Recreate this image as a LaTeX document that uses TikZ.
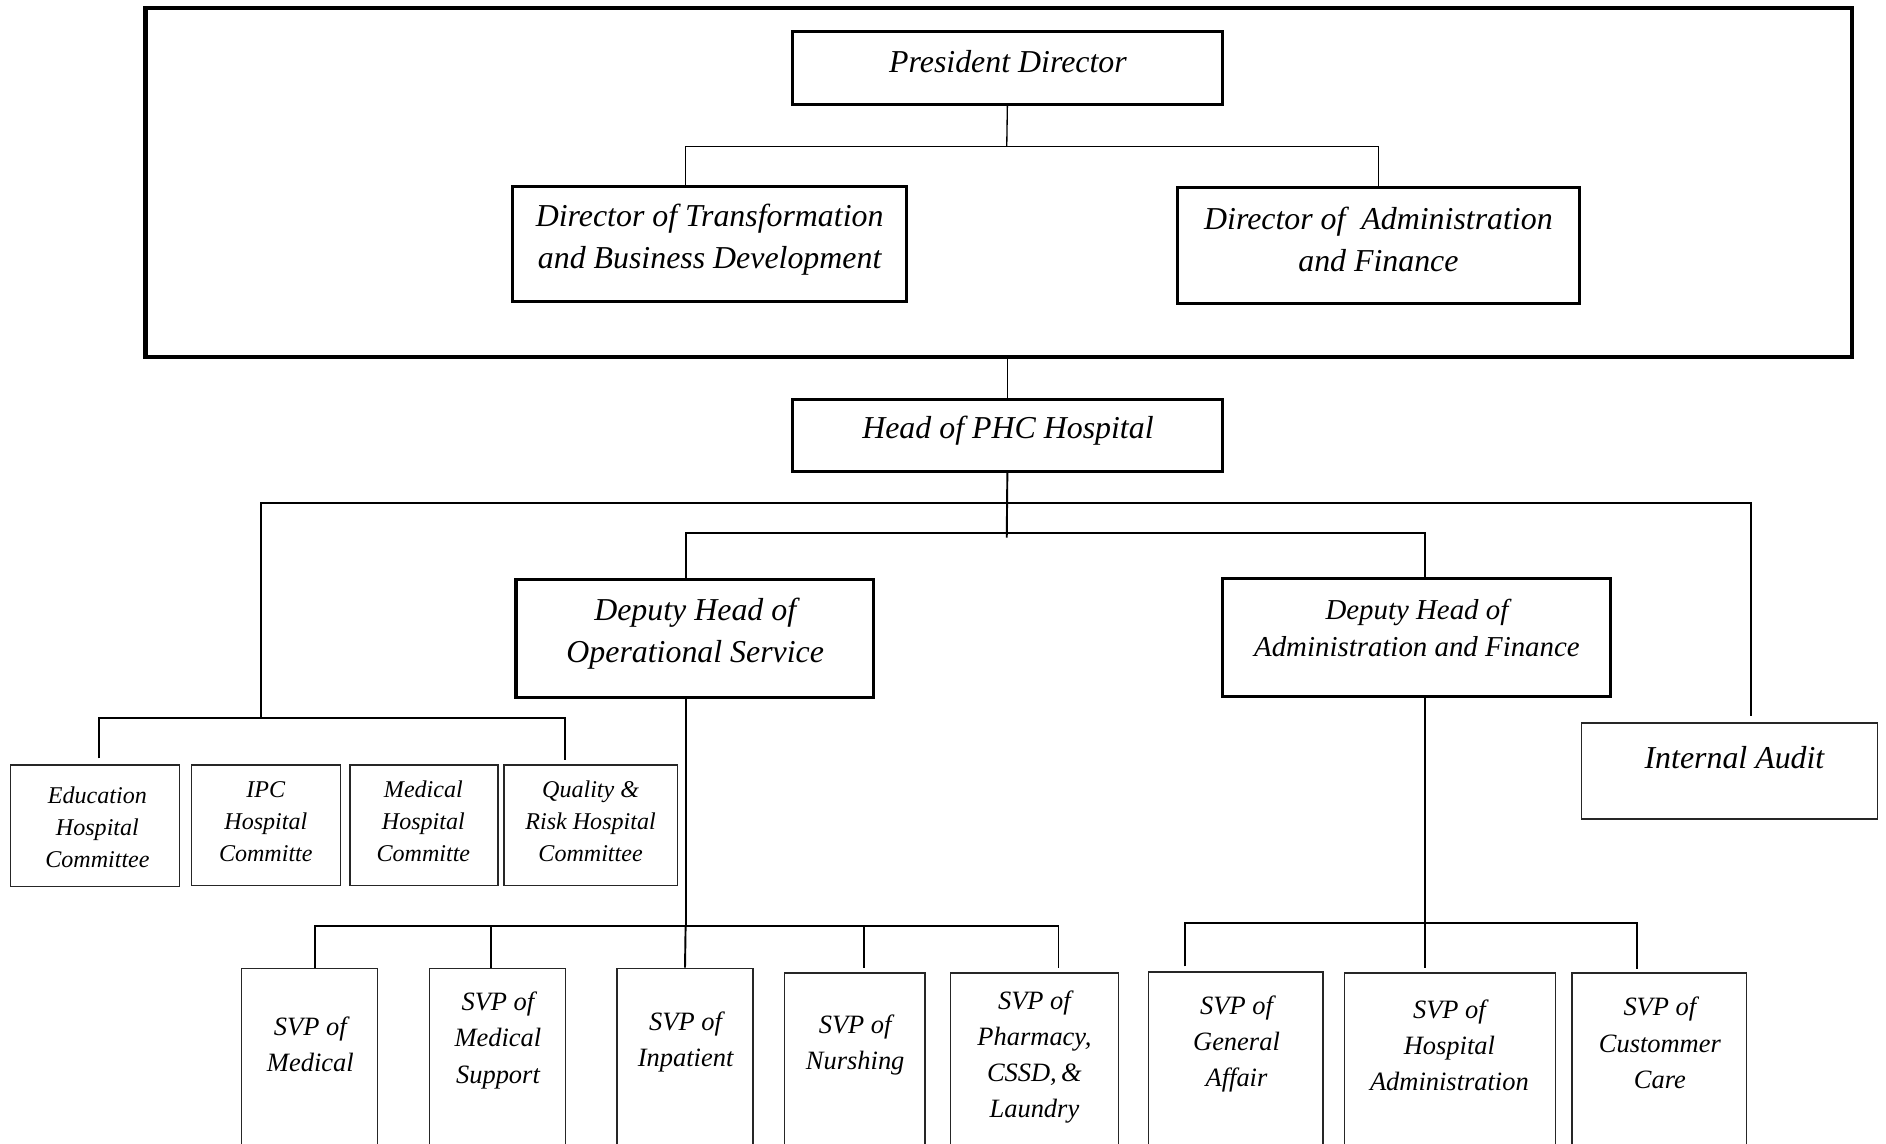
\documentclass[tikz,border=0pt]{standalone}
\usepackage{fontspec}
\setmainfont{Liberation Serif}
\begin{document}
\begin{tikzpicture}[x=1pt,y=-1pt,
  heavybox/.style={draw, line width=2.6pt, inner sep=0pt},
  lightbox/.style={draw=black!85, line width=1.1pt, inner sep=0pt},
  frame/.style={draw, line width=3.4pt, inner sep=0pt},
  conn/.style={line width=1.6pt},
  thinconn/.style={line width=1.1pt},
  bigtxt/.style={align=center, inner sep=0pt, font=\fontsize{26.5}{35}\selectfont\itshape},
  midtxt/.style={align=center, inner sep=0pt, font=\fontsize{24}{31}\selectfont\itshape},
  svptxt/.style={align=center, inner sep=0pt, font=\fontsize{22}{30}\selectfont\itshape},
  comtxt/.style={align=center, inner sep=0pt, font=\fontsize{20}{26.5}\selectfont\itshape}
]
\clip (0,0) rectangle (1568,951);
\fill[white] (0,0) rectangle (1568,951);

% board of directors
\node[frame, minimum width=1419, minimum height=290] (board) at (830.5,152) {};
\node[heavybox, minimum width=357, minimum height=61] (pres) at (837.5,56.5) {};
\node[bigtxt] (pres-t) at (838,51) {President Director};
\node[heavybox, minimum width=328, minimum height=96] (dirT) at (590,203) {};
\node[bigtxt] (dirT-t) at (590,199.5) {Director of Transformation\\and Business Development};
\node[heavybox, minimum width=334, minimum height=96] (dirA) at (1146,204) {};
\node[bigtxt] (dirA-t) at (1146,199) {Director of\ \ Administration\\and Finance};

% hospital head and deputies
\node[heavybox, minimum width=357, minimum height=60] (head) at (837.5,362) {};
\node[bigtxt] (head-t) at (838,358) {Head of PHC Hospital};
\node[heavybox, minimum width=297, minimum height=98] (depO) at (577.5,531) {};
\node[bigtxt] (depO-t) at (578,527) {Deputy Head of\\Operational Service};
\node[heavybox, minimum width=323, minimum height=98] (depA) at (1177.5,530) {};
\node[midtxt] (depA-t) at (1178,522) {Deputy Head of\\Administration and Finance};
\node[lightbox, minimum width=246, minimum height=80] (audit) at (1438,641) {};
\node[bigtxt] (audit-t) at (1442,630) {Internal Audit};

% committees
\node[lightbox, minimum width=140, minimum height=101] (edu) at (79,686.5) {};
\node[comtxt] (edu-t) at (81,688) {Education\\Hospital\\Committee};
\node[lightbox, minimum width=124, minimum height=100] (ipc) at (221,686) {};
\node[comtxt] (ipc-t) at (221,683) {IPC\\Hospital\\Committe};
\node[lightbox, minimum width=123, minimum height=100] (med) at (352.5,686) {};
\node[comtxt] (med-t) at (352,683) {Medical\\Hospital\\Committe};
\node[lightbox, minimum width=144, minimum height=100] (qual) at (491,686) {};
\node[comtxt] (qual-t) at (491,683) {Quality \&\\Risk Hospital\\Committee};

% senior vice presidents
\node[lightbox, minimum width=113, minimum height=170] (svpM) at (257.5,890) {};
\node[svptxt] (svpM-t) at (258,868) {SVP of\\Medical};
\node[lightbox, minimum width=113, minimum height=170] (svpMS) at (413.5,890) {};
\node[svptxt] (svpMS-t) at (414,865) {SVP of\\Medical\\Support};
\node[lightbox, minimum width=113, minimum height=170] (svpI) at (569.5,890) {};
\node[svptxt] (svpI-t) at (570,866) {SVP of\\Inpatient};
\node[lightbox, minimum width=117, minimum height=166] (svpN) at (710.5,892) {};
\node[svptxt] (svpN-t) at (711,869) {SVP of\\Nurshing};
\node[lightbox, minimum width=140, minimum height=166] (svpP) at (860,892) {};
\node[svptxt] (svpP-t) at (860,879) {SVP of\\Pharmacy,\\CSSD,\,\&\\Laundry};
\node[lightbox, minimum width=145, minimum height=167] (svpGA) at (1027.5,891.5) {};
\node[svptxt] (svpGA-t) at (1028,868) {SVP of\\General\\Affair};
\node[lightbox, minimum width=175, minimum height=166] (svpHA) at (1205.5,892) {};
\node[svptxt] (svpHA-t) at (1205,869) {SVP of\\Hospital\\Administration};
\node[lightbox, minimum width=145, minimum height=166] (svpCC) at (1379.5,892) {};
\node[svptxt] (svpCC-t) at (1380,867) {SVP of\\Custommer\\Care};

% junctions
\coordinate (j1) at (837,122);
\coordinate (j2) at (837,418);
\coordinate (j3) at (837,443);
\coordinate (j3end) at (837,447);
\coordinate (cj) at (217,597);
\coordinate (oj) at (570,770);
\coordinate (aj) at (1185,767);

% connectors inside the board
\draw[thinconn] (pres.south) -- (j1);
\draw[thinconn] ([xshift=-20]dirT.north) |- (j1) -| (dirA.north);
\draw[thinconn] (board.south -| head.north) -- (head.north);

% head of hospital
\draw[conn] (head.south) -- (j3end);
\draw[conn, shorten >=5pt] (cj) |- (j2) -| ([xshift=18]audit.north);
\draw[conn] ([xshift=-7.5]depO.north) |- (j3) -| ([xshift=7.5]depA.north);
\draw[conn, shorten <=5pt, shorten >=4pt] ([xshift=3]edu.north) |- (cj) -| ([xshift=-21]qual.north);

% operational service branch
\draw[conn] ([xshift=-7.5]depO.south) -- (oj);
\draw[conn, shorten >=4pt] ([xshift=4.5]svpM.north) |- (oj) -| ([xshift=20]svpP.north);
\draw[conn] ([xshift=-5.5]svpMS.north) -- ([xshift=-5.5]svpMS.north |- oj);
\draw[conn] (oj) -- (svpI.north);
\draw[conn, shorten <=4pt] ([xshift=7.5]svpN.north) -- ([xshift=7.5]svpN.north |- oj);

% administration and finance branch
\draw[conn, shorten >=4pt] ([xshift=7.5]depA.south) -- ([xshift=-20.5]svpHA.north);
\draw[conn, shorten <=4pt, shorten >=3pt] ([xshift=-42.5]svpGA.north) |- (aj) -| ([xshift=-18.5]svpCC.north);
\end{tikzpicture}
\end{document}
